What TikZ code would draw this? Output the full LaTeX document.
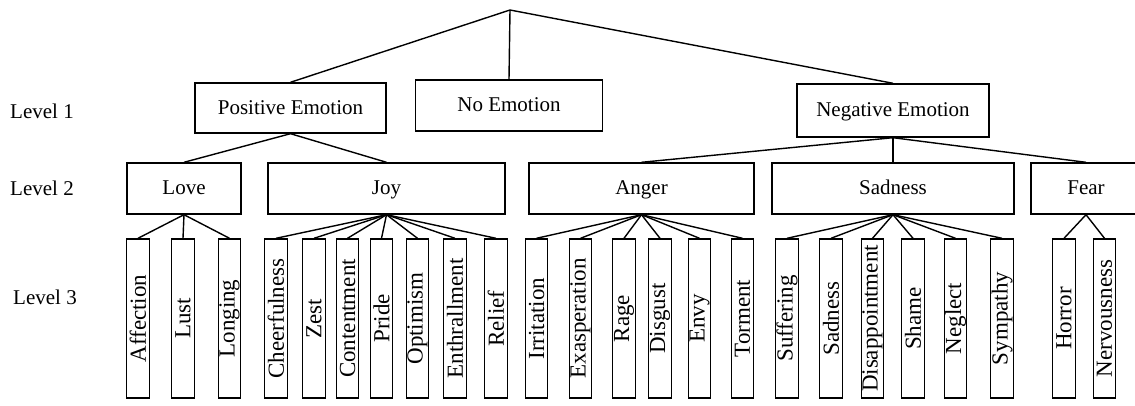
\documentclass[tikz,border=0pt]{standalone}
\usepackage{fontspec}
\usepackage{graphicx}
\setmainfont{Liberation Serif}

\tikzstyle{every picture}+=[x=1pt, y=-1pt]
\tikzstyle{emobox}=[draw, line width=1.4pt, inner sep=0pt, font=\fontsize{21}{25}\selectfont, text height=12.5pt, text depth=0pt]
\tikzstyle{leafbox}=[draw, line width=1.4pt, inner sep=0pt, font=\fontsize{23}{27}\selectfont, minimum width=22.5pt, minimum height=159pt]
\tikzstyle{lvl}=[anchor=west, inner sep=0pt, font=\fontsize{21}{25}\selectfont]
\tikzstyle{link}=[line width=1.4pt]

\begin{document}
\begin{tikzpicture}
	\newcommand\emoleaf[4]{
		\node[leafbox] (#1) at (#2,318.5) {\rotatebox{90}{#3}} ;
		\draw[link] (#4.south) -- (#1.north) ;
	}
	\useasboundingbox (0,0) rectangle (1135,406) ;

	\node[lvl] (lvlone) at (10,111) {Level 1} ;
	\node[lvl] (lvltwo) at (10,188) {Level 2} ;
	\node[lvl] (lvlthree) at (13,297) {Level 3} ;

	\coordinate (top) at (510,10) ;
	\node[emobox, minimum width=191pt, minimum height=50pt] (pos) at (290.5,108) {Positive Emotion} ;
	\node[emobox, minimum width=187pt, minimum height=51pt] (none) at (509,105.5) {No Emotion} ;
	\node[emobox, minimum width=192pt, minimum height=53pt] (neg) at (893,110.5) {Negative Emotion} ;
	\draw[link] (top) -- (pos.north) ;
	\draw[link] (top) -- (none.north) ;
	\draw[link] (top) -- (neg.north) ;

	\node[emobox, minimum width=114pt, minimum height=51pt] (love) at (184,188.5) {Love} ;
	\node[emobox, minimum width=237pt, minimum height=51pt] (joy) at (386.5,188.5) {Joy} ;
	\node[emobox, minimum width=225pt, minimum height=51pt] (anger) at (641.5,188.5) {Anger} ;
	\node[emobox, minimum width=242pt, minimum height=51pt] (sad) at (893,188.5) {Sadness} ;
	\node[emobox, minimum width=110pt, minimum height=51pt] (fear) at (1086,188.5) {Fear} ;
	\draw[link] (pos.south) -- (love.north) ;
	\draw[link] (pos.south) -- (joy.north) ;
	\draw[link] (neg.south) -- (anger.north) ;
	\draw[link] (neg.south) -- (sad.north) ;
	\draw[link] (neg.south) -- (fear.north) ;

	\emoleaf{affection}{138}{Affection}{love}
	\emoleaf{lust}{183}{Lust}{love}
	\emoleaf{longing}{229.5}{Longing}{love}

	\emoleaf{cheer}{276}{Cheerfulness}{joy}
	\emoleaf{zest}{314}{Zest}{joy}
	\emoleaf{content}{347.5}{Contentment}{joy}
	\emoleaf{pride}{381.5}{Pride}{joy}
	\emoleaf{optim}{417.5}{Optimism}{joy}
	\emoleaf{enthr}{455}{Enthrallment}{joy}
	\emoleaf{relief}{496}{Relief}{joy}

	\emoleaf{irrit}{536.5}{Irritation}{anger}
	\emoleaf{exasp}{580.5}{Exasperation}{anger}
	\emoleaf{rage}{624}{Rage}{anger}
	\emoleaf{disgust}{660}{Disgust}{anger}
	\emoleaf{envy}{699.5}{Envy}{anger}
	\emoleaf{torment}{742.5}{Torment}{anger}

	\emoleaf{suffer}{787}{Suffering}{sad}
	\emoleaf{sadleaf}{831}{Sadness}{sad}
	\emoleaf{disapp}{872.5}{Disappointment}{sad}
	\emoleaf{shame}{913}{Shame}{sad}
	\emoleaf{neglect}{955.5}{Neglect}{sad}
	\emoleaf{sympathy}{1002}{Sympathy}{sad}

	\emoleaf{horror}{1064}{Horror}{fear}
	\emoleaf{nervous}{1104.5}{Nervousness}{fear}
\end{tikzpicture}
\end{document}
